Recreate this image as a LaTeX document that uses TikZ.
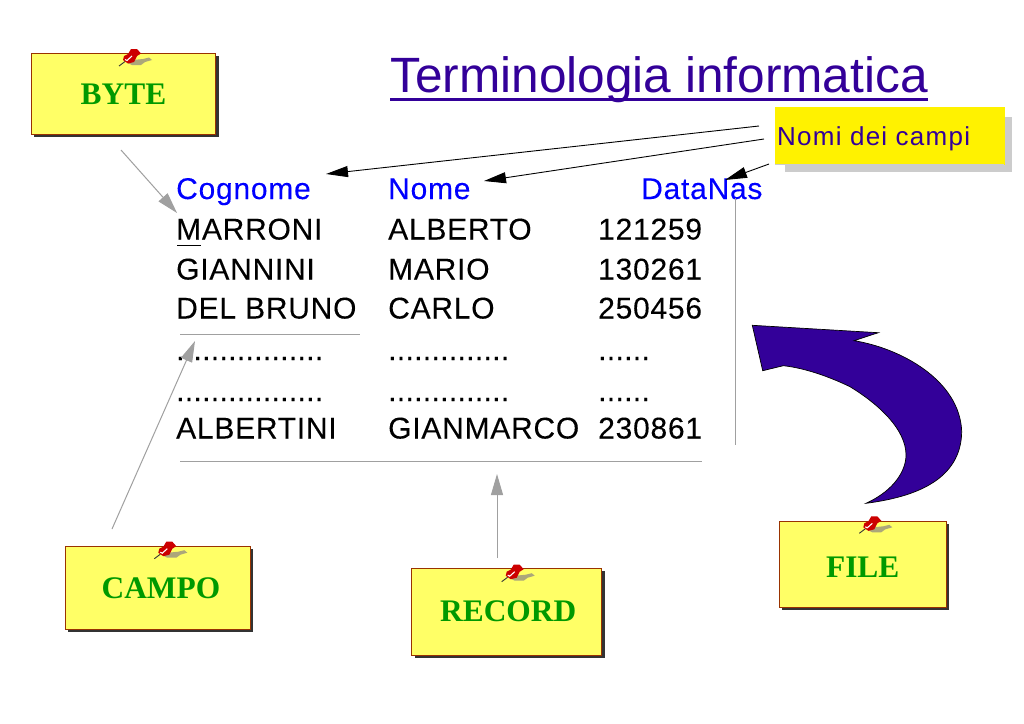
\documentclass[tikz,border=0pt]{standalone}
\usepackage{fontspec}
\setmainfont{Liberation Sans}
\newfontfamily\tablefont[LetterSpace=2.5,FakeBold=0.12]{Liberation Sans}
\newfontfamily\dotsfont[LetterSpace=1.1,FakeBold=0.3]{Liberation Sans}
\newfontfamily\nomifont[LetterSpace=4.8]{Liberation Sans}
\newfontfamily\notefont[Ligatures=TeX]{Liberation Serif}
\usetikzlibrary{arrows.meta}
\definecolor{titlepurple}{HTML}{330099}
\definecolor{headblue}{HTML}{0000FF}
\definecolor{noteyellow}{HTML}{FFFF66}
\definecolor{noteedge}{HTML}{993300}
\definecolor{notegreen}{HTML}{009900}
\definecolor{noteshadow}{HTML}{333333}
\definecolor{softgrey}{HTML}{A0A0A0}
\definecolor{lightshadow}{HTML}{CCCCCC}
\definecolor{pinred}{HTML}{CC0000}
\definecolor{pinshadow}{HTML}{ACA77A}
\tikzset{
  notebox/.style={draw=noteedge,line width=0.9pt,fill=noteyellow,inner sep=0pt,
    text=notegreen,font=\notefont\bfseries\fontsize{31.4}{31.4}\selectfont,
    align=center,anchor=north west},
  cell/.style={anchor=base west,inner sep=0pt,font=\tablefont\fontsize{30}{30}\selectfont,text=black},
  headcell/.style={cell,text=headblue},
  dotcell/.style={cell,font=\dotsfont\fontsize{30}{30}\selectfont},
  greyrule/.style={draw=softgrey,line width=1pt},
  greyarrow/.style={draw=softgrey,line width=1pt,-{Triangle[length=21pt,width=12pt,fill=softgrey]}},
  blackarrow/.style={draw=black,line width=0.9pt,-{Triangle[length=22pt,width=11pt,fill=black]}},
  pushpin/.pic={
    \fill[pinshadow] (9,-3) -- (14,-6) -- (24,-7) -- (30,-8.5) -- (33,-6) -- (26,-4) -- (22,-1) -- (13,-1) -- cycle;
    \draw[noteshadow,line width=0.9pt] (0,0) -- (6,-4.5);
    \fill[pinred] (4,-6) -- (5,-10) -- (9,-12) -- (12,-17) -- (18,-17) -- (22,-12.5) -- (18,-10) -- (15,-4) -- (9,-2.5) -- cycle;
    \draw[white,line width=1.1pt] (6,-6.5) -- (8,-5.5) -- (13,-10);
  }
}
\begin{document}
\begin{tikzpicture}[x=1pt,y=-1pt]
\useasboundingbox (0,0) rectangle (1024,723);
\fill[white] (0,0) rectangle (1024,723);

% title
\node[anchor=base west,inner sep=0pt,text=titlepurple,font=\fontsize{49.6}{49.6}\selectfont] (title) at (390,92) {Terminologia informatica};
\draw[titlepurple,line width=3.2pt] (390,99.5) -- (928,99.5);

% note "Nomi dei campi"
\fill[lightshadow] (785,117) rectangle (1012,172);
\node[anchor=north west,fill=yellow,minimum width=230pt,minimum height=58pt,inner sep=0pt] (nomibox) at (775,107) {};
\draw[lightshadow,line width=0.8pt] (775,164) -- (1004,164);
\node[anchor=base west,inner sep=0pt,text=titlepurple,font=\nomifont\fontsize{26}{26}\selectfont] (nomitext) at (777,145) {Nomi dei campi};

% table
\node[headcell] (hcognome) at (176,199) {Cognome};
\node[headcell] (hnome) at (388,199) {Nome};
\node[headcell] (hdata) at (641,199) {DataNas};
\node[cell] (a1) at (176,239.5) {MARRONI};
\node[cell] (a2) at (388,239.5) {ALBERTO};
\node[cell] (a3) at (598,239.5) {121259};
\node[cell] (b1) at (176,279.5) {GIANNINI};
\node[cell] (b2) at (388,279.5) {MARIO};
\node[cell] (b3) at (598,279.5) {130261};
\node[cell] (c1) at (176,318.5) {DEL BRUNO};
\node[cell] (c2) at (388,318.5) {CARLO};
\node[cell] (c3) at (598,318.5) {250456};
\node[dotcell] (d1) at (176,360) {.................};
\node[dotcell] (d2) at (388,360) {..............};
\node[dotcell] (d3) at (598,360) {......};
\node[dotcell] (e1) at (176,401) {.................};
\node[dotcell] (e2) at (388,401) {..............};
\node[dotcell] (e3) at (598,401) {......};
\node[cell] (f1) at (176,438.5) {ALBERTINI};
\node[cell] (f2) at (388,438.5) {GIANMARCO};
\node[cell] (f3) at (598,438.5) {230861};

% rules
\draw[black,line width=1pt] (177,245) -- (201,245);
\draw[greyrule] (180,334) -- (360,334);
\draw[greyrule] (180,461) -- (702,461);
\draw[greyrule] (735.5,198) -- (735.5,445);

% big arrow
\draw[fill=titlepurple,draw=black,line width=0.7pt]
  (752.3,325.3) -- (878.3,332.7) -- (854,340.7)
  .. controls (900,348) and (960,380) .. (961.7,431.7)
  .. controls (961,480) and (915,497) .. (866,503.3)
  .. controls (895,490) and (906,470) .. (906,455)
  .. controls (906,430) and (880,405) .. (850,386.7)
  .. controls (830,377) and (805,368) .. (783.3,365.7)
  -- (762.7,370.7) -- cycle;

% notes
\fill[noteshadow] (34,56) rectangle (218.5,137);
\node[notebox,minimum width=184pt,minimum height=81pt] (byte) at (31,53) {\raisebox{-10.7pt}[0pt][0pt]{BYTE}};
\fill[noteshadow] (68,549) rectangle (253,631.5);
\node[notebox,minimum width=185pt,minimum height=83pt] (campo) at (65,546) {\hspace*{6pt}\raisebox{-11pt}[0pt][0pt]{CAMPO}};
\fill[noteshadow] (415,571) rectangle (604.5,657.5);
\node[notebox,minimum width=189.5pt,minimum height=87pt] (record) at (411,568) {\hspace*{4pt}\raisebox{-10pt}[0pt][0pt]{RECORD}};
\fill[noteshadow] (782,524) rectangle (948.5,609.5);
\node[notebox,minimum width=166.5pt,minimum height=86pt] (file) at (779,521) {\raisebox{-13.5pt}[0pt][0pt]{FILE}};

% pins
\pic at (119,66) {pushpin};
\pic at (154.3,558.7) {pushpin};
\pic at (501.7,581.7) {pushpin};
\pic at (859.3,533.3) {pushpin};

% connector ends
\coordinate (bytefrom) at (121,150);
\coordinate (byteto) at (177,213);
\coordinate (campofrom) at (112,529);
\coordinate (campoto) at (195,341);
\coordinate (recordfrom) at (497,558);
\coordinate (recordto) at (497,474);
\coordinate (n1from) at (759,126);
\coordinate (n1to) at (326,174);
\coordinate (n2from) at (764,139);
\coordinate (n2to) at (484,181);
\coordinate (n3from) at (769,164);
\coordinate (n3to) at (725,180);
\draw[greyarrow] (bytefrom) -- (byteto);
\draw[greyarrow] (campofrom) -- (campoto);
\draw[greyarrow] (recordfrom) -- (recordto);
\draw[blackarrow] (n1from) -- (n1to);
\draw[blackarrow] (n2from) -- (n2to);
\draw[blackarrow] (n3from) -- (n3to);
\end{tikzpicture}
\end{document}
